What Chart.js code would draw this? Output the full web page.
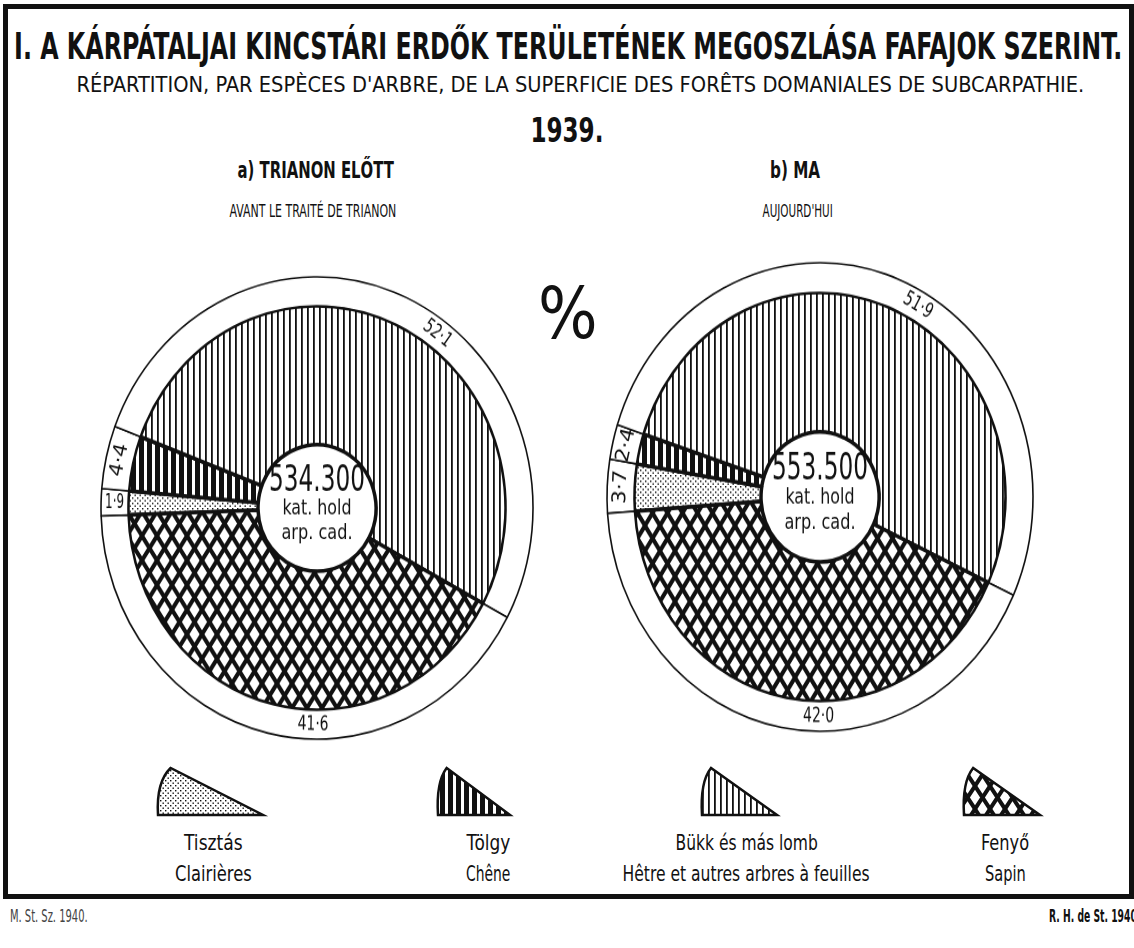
<!DOCTYPE html>
<html>
<head>
<meta charset="utf-8">
<script src="https://cdn.jsdelivr.net/npm/chart.js"></script>
<style>
  body { margin: 0; width: 1134px; height: 948px; overflow: hidden; position: relative; background: #fff; color: #111;
         font-family: "Liberation Sans Narrow", "DejaVu Sans Condensed", "Arial Narrow", sans-serif; }
  .t { position: absolute; white-space: nowrap; line-height: 1; transform-origin: center center; }
  #frame { position: absolute; left: 3px; top: 4px; width: 1121px; height: 885px; border: 5px solid #111; }
  .pie { position: absolute; width: 500px; height: 500px; transform-origin: 250px 250px; }
  #legend { position: absolute; left: 0; top: 740px; }
</style>
</head>
<body>
<div id="frame"></div>
<div class="pie" id="wrapA"><canvas id="pieA" width="500" height="500"></canvas></div>
<div class="pie" id="wrapB"><canvas id="pieB" width="500" height="500"></canvas></div>
<canvas id="legend" width="1134" height="90"></canvas>
<script>
// data
const categoriesHu = ['Tisztás', 'Tölgy', 'Bükk és más lomb', 'Fenyő'];
const categoriesFr = ['Clairières', 'Chêne', 'Hêtre et autres arbres à feuilles', 'Sapin'];
const beforeTrianon = [1.9, 4.4, 52.1, 41.6];   // a) Trianon előtt, %
const today = [3.7, 2.4, 51.9, 42.0];           // b) ma, %
const totalAreas = ['534.300', '553.500'];
const areaUnit = ['kat. hold', 'arp. cad.'];

const INK = '#111';
const FONT = '"Liberation Sans Narrow", "DejaVu Sans Condensed", "Arial Narrow", sans-serif';
const HOLE = 59;   // radius of the white centre

// html text, squeezed to the width it has in the print
function put(text, cx, cy, size, width, opts = {}) {
    let el = document.createElement('div');
    el.className = 't';
    el.textContent = text;
    el.style.fontSize = size + 'px';
    if (opts.bold) el.style.fontWeight = 'bold';
    if (opts.color) el.style.color = opts.color;
    document.body.appendChild(el);
    let w = el.offsetWidth, h = el.offsetHeight;
    el.style.left = (cx - w / 2) + 'px';
    el.style.top = (cy - h / 2) + 'px';
    el.style.transform = `scale(${width / w}, ${opts.sy || 1})`;
}

function fitText(ctx, text, x, y, width) {
    let w = ctx.measureText(text).width;
    ctx.save();
    ctx.translate(x, y);
    ctx.scale(width / w, 1);
    ctx.fillText(text, 0, 0);
    ctx.restore();
}

// fill patterns of the four kinds of forest
function tile(w, h, draw) {
    let c = document.createElement('canvas');
    c.width = w; c.height = h;
    let g = c.getContext('2d');
    g.fillStyle = '#fff';
    g.fillRect(0, 0, w, h);
    g.fillStyle = INK;
    g.strokeStyle = INK;
    draw(g, w, h);
    return c;
}
const tiles = [
    tile(5, 5, g => { g.fillRect(0, 0, 1.4, 1.4); g.fillRect(2.5, 2.5, 1.4, 1.4); }),   // tisztás: dots
    tile(8, 4, g => { g.fillRect(0, 0, 5, 4); }),                                    // tölgy: thick bars
    tile(6, 4, g => { g.fillRect(0, 0, 1.8, 4); }),                                  // bükk: thin lines
    tile(15, 23, (g, w, h) => {                                                      // fenyő: diamonds
        g.lineWidth = 4;
        for (let dx = -w; dx <= w; dx += w) {
            for (let dy = -h; dy <= h; dy += h) {
                g.beginPath();
                g.moveTo(dx, dy); g.lineTo(dx + w, dy + h);
                g.moveTo(dx + w, dy); g.lineTo(dx, dy + h);
                g.stroke();
            }
        }
    })
];
function patternsFor(ctx) {
    return tiles.map(t => ctx.createPattern(t, 'repeat'));
}

const ringText = {
    id: 'ringText',
    afterDatasetsDraw(chart, args, opts) {
        let ctx = chart.ctx;
        let ring = chart.getDatasetMeta(0).data;
        let values = chart.data.datasets[0].data;
        ctx.save();
        ctx.fillStyle = INK;
        ctx.textAlign = 'center';
        ctx.textBaseline = 'middle';
        ctx.font = '19px ' + FONT;
        ring.forEach((arc, i) => {
            let p = arc.getProps(['x', 'y', 'startAngle', 'endAngle', 'innerRadius', 'outerRadius']);
            let sweep = p.endAngle - p.startAngle;
            let r = (p.innerRadius + p.outerRadius) / 2;
            let a = (p.startAngle + p.endAngle) / 2 + (opts.shift[i] || 0) * Math.PI / 180;
            let txt = values[i].toFixed(1).replace('.', '·');
            ctx.save();
            ctx.translate(p.x + Math.cos(a) * r, p.y + Math.sin(a) * r);
            if (sweep * r > 28) {
                let rot = a + Math.PI / 2;
                while (rot >= Math.PI / 2) rot -= Math.PI;
                while (rot < -Math.PI / 2) rot += Math.PI;
                ctx.rotate(rot);
                fitText(ctx, txt, 0, 0, 31);
            } else {
                fitText(ctx, txt, 0, 0, 19);
            }
            ctx.restore();
        });
        // the white centre
        let c = ring[0];
        ctx.font = '33px ' + FONT;
        fitText(ctx, opts.total, c.x, c.y - 25, 96);
        ctx.font = '19px ' + FONT;
        fitText(ctx, areaUnit[0], c.x, c.y + 1, 69);
        fitText(ctx, areaUnit[1], c.x, c.y + 24, 71);
        ctx.restore();
    }
};

function pie(id, values, total, rotation, radius, shift) {
    let canvas = document.getElementById(id);
    let ctx = canvas.getContext('2d');
    return new Chart(canvas, {
        type: 'doughnut',
        data: {
            labels: categoriesHu,
            datasets: [
                { data: values, backgroundColor: '#fff', borderColor: INK, borderWidth: 1.6, weight: 27 },
                { data: values, backgroundColor: patternsFor(ctx), borderColor: INK, borderWidth: 3.5, weight: radius - 27 - HOLE }
            ]
        },
        options: {
            responsive: false,
            animation: false,
            events: [],
            rotation: rotation,
            radius: radius,
            cutout: (HOLE / radius * 100) + '%',
            plugins: {
                legend: { display: false },
                tooltip: { enabled: false },
                ringText: { total: total, shift: shift }
            }
        },
        plugins: [ringText]
    });
}

function place(id, cx, cy, sy) {
    let el = document.getElementById(id);
    el.style.left = (cx - 250) + 'px';
    el.style.top = (cy - 250) + 'px';
    el.style.transform = `scale(1, ${sy})`;
}

place('wrapA', 317, 508, 1.07);
place('wrapB', 820, 497, 1.1);
pie('pieA', beforeTrianon, totalAreas[0], 268, 216, [0, 0, 12, -12]);
pie('pieB', today, totalAreas[1], 266, 213, [0, 0, 8, -10]);

// legend wedges
let lg = document.getElementById('legend').getContext('2d');
let lpat = patternsFor(lg);
let legendX = [213, 488, 746, 1005];
let wedges = [[158, 263], [438, 510], [702, 777], [964, 1040]];
wedges.forEach(([x0, x1], i) => {
    let y0 = 28, y1 = 75, w = x1 - x0;
    lg.beginPath();
    lg.moveTo(x1, y1);
    lg.lineTo(x0, y1);
    lg.quadraticCurveTo(x0 - 2, y0 + 14, x0 + 0.12 * w, y0);
    lg.closePath();
    lg.fillStyle = lpat[i];
    lg.fill();
    lg.lineWidth = 2.5;
    lg.lineJoin = 'miter';
    lg.strokeStyle = INK;
    lg.stroke();
});

// texts
put('I. A KÁRPÁTALJAI KINCSTÁRI ERDŐK TERÜLETÉNEK MEGOSZLÁSA FAFAJOK SZERINT.', 568, 46, 38, 1108, { bold: true });
put('RÉPARTITION, PAR ESPÈCES D\'ARBRE, DE LA SUPERFICIE DES FORÊTS DOMANIALES DE SUBCARPATHIE.', 580, 85, 22, 1008);
put('1939.', 567, 130, 33, 73, { bold: true });
put('a) TRIANON ELŐTT', 315, 170, 23, 156, { bold: true });
put('AVANT LE TRAITÉ DE TRIANON', 313, 211, 18, 167);
put('b) MA', 795, 170, 23, 50, { bold: true });
put('AUJOURD\'HUI', 797, 211, 18, 70);
put('%', 568, 313, 72, 60);
categoriesHu.forEach((c, i) => put(c, legendX[i], 843, 21, [59, 44, 142, 48][i]));
categoriesFr.forEach((c, i) => put(c, legendX[i], 874, 21, [77, 44, 247, 41][i]));
put('M. St. Sz. 1940.', 49, 916, 17, 78, { color: '#444' });
put('R. H. de St. 1940', 1093, 916, 17, 88, { bold: true });
</script>
</body>
</html>
